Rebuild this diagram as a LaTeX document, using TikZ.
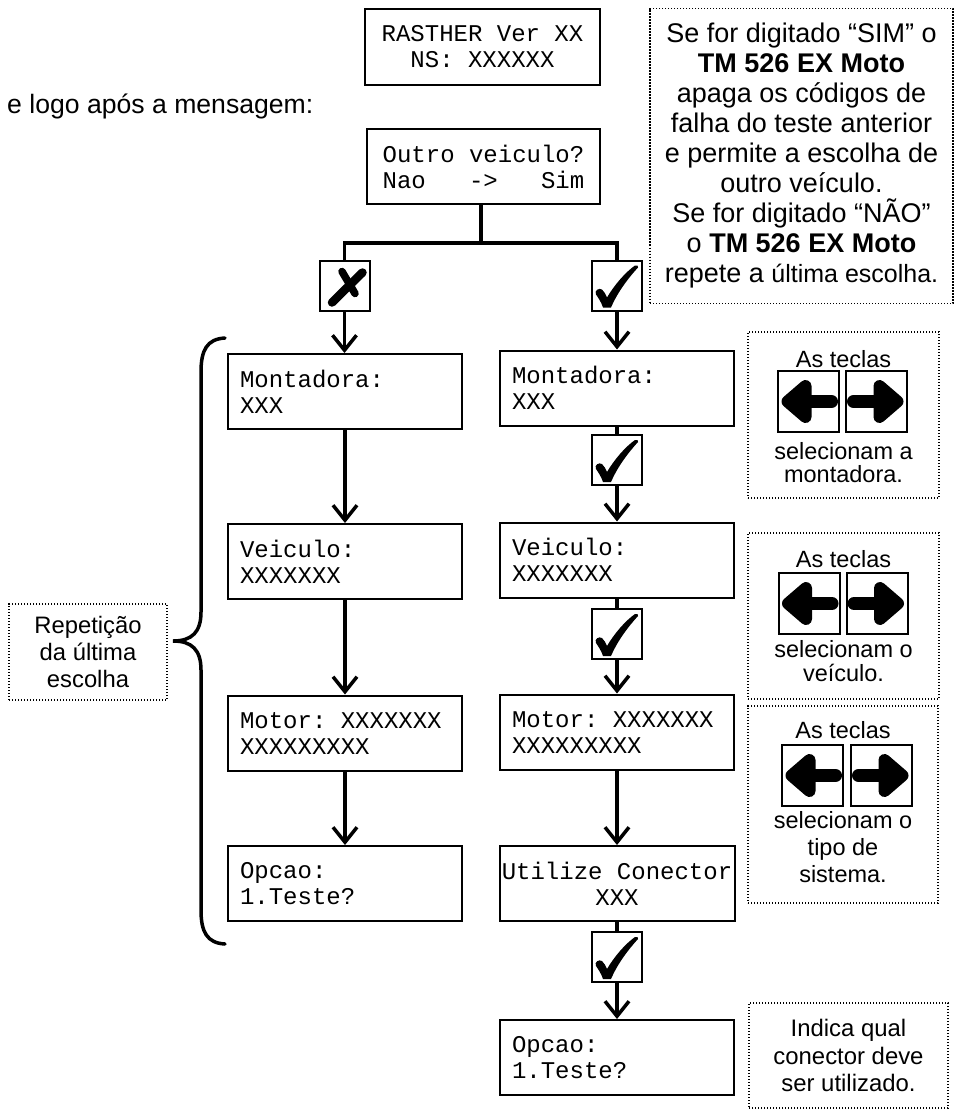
\documentclass[tikz,border=0pt]{standalone}
\usepackage{fontspec}
\setmainfont{Liberation Sans}
\setmonofont{Liberation Mono}
\usetikzlibrary{arrows.meta}
% fixed-pitch spaces for the display screens
\newcommand\lcdspaces{\spaceskip=0.6em\relax\xspaceskip=0.6em\relax}

\begin{document}
\begin{tikzpicture}[x=1pt,y=-1pt,
  lcd/.style={draw, line width=2pt, minimum height=75pt, inner xsep=12pt, inner ysep=4pt,
    text width=210pt, align=left, font=\ttfamily\fontsize{24}{26}\selectfont,
    execute at begin node=\lcdspaces},
  lcdc/.style={lcd, align=center},
  tick/.style={draw, line width=2pt, minimum size=50pt, inner sep=0pt},
  yesbox/.style={tick, path picture={
    \begin{scope}[shift={(path picture bounding box.center)}]
      \fill (-14,22) .. controls (-16,16) and (-19,12) .. (-21,9)
        .. controls (-23,5) and (-18,2) .. (-15,4)
        .. controls (-13,6) and (-11,9) .. (-10,12)
        .. controls (-3,0) and (8,-13) .. (18,-20)
        .. controls (20,-21) and (22,-19) .. (21,-18)
        .. controls (10,-6) and (0,8) .. (-6,22) -- cycle;
    \end{scope}}},
  nobox/.style={tick, path picture={
    \begin{scope}[shift={(path picture bounding box.center)}]
      \draw[line width=8.5pt, line cap=round] (-12.5,17) -- (18,-13);
      \draw[line width=7.5pt, line cap=round] (-2.5,-14) -- (10.5,8);
    \end{scope}}},
  flow/.style={line width=3.5pt, -{Straight Barb[length=15pt,width=24pt]}},
  link/.style={line width=3.5pt},
  note/.style={draw, line width=1.2pt, dash pattern=on 1.2pt off 1.8pt, inner sep=0pt},
  keytxt/.style={font=\fontsize{23.5}{23}\selectfont, align=center, inner sep=0pt},
  keybox/.style={draw, line width=2pt, minimum size=61pt, inner sep=0pt},
  keyleft/.style={keybox, path picture={
    \begin{scope}[shift={(path picture bounding box.center)}]
      \draw[line width=13pt, line cap=round] (23,0) -- (-18,0);
      \filldraw[line width=12pt, line join=round] (-21,0) -- (-3,-15.5) -- (-3,15.5) -- cycle;
    \end{scope}}},
  keyright/.style={keybox, path picture={
    \begin{scope}[shift={(path picture bounding box.center)}]
      \draw[line width=13pt, line cap=round] (-23,0) -- (18,0);
      \filldraw[line width=12pt, line join=round] (21,0) -- (3,-15.5) -- (3,15.5) -- cycle;
    \end{scope}}},
]
\useasboundingbox (0,0) rectangle (960,1111);

% start-up screens
\node[lcdc, text width=211pt, minimum height=76pt] (rasther) at (482.5,47) {RASTHER Ver XX\\NS: XXXXXX};
\node[anchor=base west, inner sep=0pt, font=\fontsize{26.6}{30}\selectfont] (intro) at (7,113) {e logo após a mensagem:};
\node[lcdc, text width=209pt] (outro) at (483.5,166.5) {Outro veiculo?\\Nao\ \ \ ->\ \ \ Sim};

% answer keys
\node[nobox] (t0) at (344.5,285.5) {};
\node[yesbox] (c0) at (617,285.5) {};

% left branch: last choice repeated
\node[lcd] (l1) at (345,391.5) {Montadora:\\XXX};
\node[lcd] (l2) at (345,561.5) {Veiculo:\\XXXXXXX};
\node[lcd] (l3) at (345,733) {Motor: XXXXXXX\\XXXXXXXXX};
\node[lcd] (l4) at (345,883.5) {Opcao:\\1.Teste?};

% right branch: new choice
\node[lcd] (r1) at (617,388) {Montadora:\\XXX};
\node[yesbox] (c1) at (617,460) {};
\node[lcd] (r2) at (617,560) {Veiculo:\\XXXXXXX};
\node[yesbox] (c2) at (617,634) {};
\node[lcd] (r3) at (617,732) {Motor: XXXXXXX\\XXXXXXXXX};
\node[lcdc, inner xsep=1pt, text width=233pt] (r4) at (617,883.5) {Utilize Conector\\XXX};
\node[yesbox] (c3) at (617,957) {};
\node[lcd] (r5) at (617,1057.5) {Opcao:\\1.Teste?};

% branching bar
\coordinate (j) at (481,243);
\coordinate (jl) at (344.5,243);
\coordinate (jr) at (617,243);
\draw[link] (outro.south -| j) -- (j);
\draw[link] (t0.north) -- (jl) -- (jr) -- (c0.north);

% flow connectors
\draw[flow] (t0.south) -- (t0.south |- l1.north);
\draw[flow] (c0) -- (r1);
\draw[flow] (l1) -- (l2);
\draw[flow] (l2) -- (l3);
\draw[flow] (l3) -- (l4);
\draw[link] (r1) -- (c1);
\draw[flow] (c1) -- (r2);
\draw[link] (r2) -- (c2);
\draw[flow] (c2) -- (r3);
\draw[flow] (r3) -- (r4);
\draw[link] (r4) -- (c3);
\draw[flow] (c3) -- (r5);

% brace over the left branch
\draw[link, line cap=round] (225,338) .. controls (207,339) and (201,350) .. (201,372)
  -- (201,612) .. controls (201,632) and (192,641) .. (173,641)
  .. controls (192,641) and (201,650) .. (201,670)
  -- (201,910) .. controls (201,932) and (207,943) .. (225,944);
\node[note, minimum width=158pt, minimum height=96pt, font=\fontsize{23.8}{27}\selectfont, align=center] (rep) at (88,652) {Repetição\\da última\\escolha};

% explanation of the answer
\node[note, minimum width=303pt, minimum height=295pt, align=center, font=\fontsize{27}{30}\selectfont] (info) at (801.5,156)
  {Se for digitado “SIM” o\\\textbf{TM 526 EX Moto}\\apaga os códigos de\\falha do teste anterior\\e permite a escolha de\\outro veículo.\\Se for digitado “NÃO”\\o \textbf{TM 526 EX Moto}\\repete a {\fontsize{25}{30}\selectfont última escolha.}};

% key hints
\node[note, minimum width=191pt, minimum height=166pt] (n1) at (843.5,415) {};
\node[keytxt, anchor=base] (n1a) at (843.5,367) {As teclas};
\node[keyleft] (k1l) at (808.5,401.5) {};
\node[keyright] (k1r) at (876.5,401.5) {};
\node[keytxt] (n1b) at (843.5,463) {selecionam a\\montadora.};

\node[note, minimum width=191pt, minimum height=166pt] (n2) at (843.5,616) {};
\node[keytxt, anchor=base] (n2a) at (843.5,567) {As teclas};
\node[keyleft] (k2l) at (809,603.5) {};
\node[keyright] (k2r) at (877,603.5) {};
\node[keytxt, font=\fontsize{23.5}{24}\selectfont] (n2b) at (843.5,661.5) {selecionam o\\veículo.};

\node[note, minimum width=190pt, minimum height=197pt] (n3) at (843,804.5) {};
\node[keytxt, anchor=base] (n3a) at (843,738) {As teclas};
\node[keyleft] (k3l) at (812.5,775.5) {};
\node[keyright] (k3r) at (881.5,775.5) {};
\node[keytxt, font=\fontsize{23.5}{27}\selectfont] (n3b) at (843,847.5) {selecionam o\\tipo de\\sistema.};

\node[note, minimum width=199pt, minimum height=105pt, align=center, font=\fontsize{23.9}{27.5}\selectfont] (n4) at (848.5,1055.5) {Indica qual\\conector deve\\ser utilizado.};
\end{tikzpicture}
\end{document}
